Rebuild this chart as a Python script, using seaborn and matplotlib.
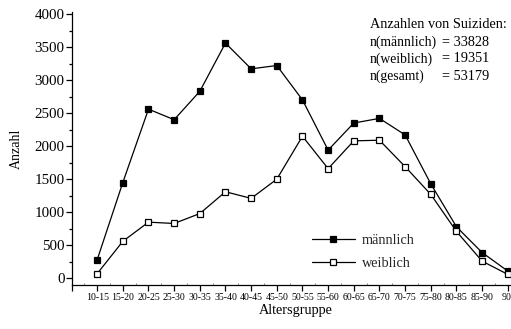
import matplotlib
matplotlib.use("Agg")
import matplotlib.pyplot as plt
import seaborn as sns
import pandas as pd
from matplotlib.ticker import MultipleLocator, FixedLocator

age_groups = ["10-15", "15-20", "20-25", "25-30", "30-35", "35-40", "40-45", "45-50",
              "50-55", "55-60", "60-65", "65-70", "70-75", "75-80", "80-85", "85-90", "90-"]
maennlich = [280, 1450, 2560, 2400, 2830, 3560, 3170, 3220, 2700, 1940, 2350, 2420,
             2170, 1430, 780, 390, 110]
weiblich = [70, 560, 850, 830, 980, 1310, 1210, 1500, 2150, 1660, 2080, 2090,
            1690, 1270, 710, 260, 60]
info_labels = ["n(männlich)", "n(weiblich)", "n(gesamt)"]
info_values = ["= 33828", "= 19351", "= 53179"]

sns.set_theme(style="ticks")
plt.rcParams["font.family"] = ["Liberation Serif", "DejaVu Serif"]

pos = list(range(len(age_groups)))
df_m = pd.DataFrame({"x": pos, "y": maennlich})
df_w = pd.DataFrame({"x": pos, "y": weiblich})

W, H = 511, 329
fig = plt.figure(figsize=(W / 100, H / 100), dpi=100)
fig.patch.set_facecolor("white")
ax = fig.add_axes([71.5 / W, 1 - 285 / H, (520.6 - 71.5) / W, (285 - 12) / H])
ax.set_facecolor("white")

sns.lineplot(data=df_m, x="x", y="y", ax=ax, color="black", lw=0.9, marker="s",
             markersize=5, markerfacecolor="black", markeredgecolor="black",
             markeredgewidth=0.9, label="männlich")
sns.lineplot(data=df_w, x="x", y="y", ax=ax, color="black", lw=0.9, marker="s",
             markersize=5, markerfacecolor="white", markeredgecolor="black",
             markeredgewidth=0.9, label="weiblich")

ax.set_xlim(-1, 16.5)
ax.set_ylim(-101, 4030)

ax.xaxis.set_major_locator(FixedLocator(list(range(-1, len(age_groups)))))
ax.set_xticklabels([""] + age_groups)
ax.xaxis.set_minor_locator(FixedLocator([p + 0.5 for p in range(-1, len(age_groups))]))
ax.yaxis.set_major_locator(MultipleLocator(500))
ax.yaxis.set_minor_locator(MultipleLocator(250))

for s in ["top", "right"]:
    ax.spines[s].set_visible(False)
for s in ["left", "bottom"]:
    ax.spines[s].set_linewidth(0.9)
    ax.spines[s].set_color("black")

ax.tick_params(axis="x", which="major", direction="out", length=4, width=0.9,
               labelsize=7.1, pad=1.5, colors="black")
ax.tick_params(axis="x", which="minor", direction="in", length=1.5, width=0.6,
               colors="#777777")
ax.tick_params(axis="y", which="major", direction="out", length=4, width=0.9,
               labelsize=10.8, pad=1, colors="black")
ax.tick_params(axis="y", which="minor", direction="out", length=2.5, width=0.9,
               colors="black")

ax.set_xlabel("Altersgruppe", fontsize=10.3, labelpad=2, color="black")
ax.set_ylabel("Anzahl", fontsize=10, labelpad=8, color="black")

leg = ax.legend(loc="center left", bbox_to_anchor=(312 / W, 1 - 252 / H),
                bbox_transform=fig.transFigure, frameon=False, fontsize=10.3,
                handlelength=3.0, handletextpad=0.5, labelspacing=0.75,
                borderaxespad=0, borderpad=0)

fs = 10.3
fig.text(370 / W, 1 - 25 / H, "Anzahlen von Suiziden:", fontsize=fs,
         va="center", ha="left", color="black")
for i, (lab, val) in enumerate(zip(info_labels, info_values)):
    yy = 1 - (42 + 17 * i) / H
    fig.text(370 / W, yy, lab, fontsize=9.8, va="center", ha="left", color="black")
    fig.text(441.5 / W, yy, val, fontsize=fs, va="center", ha="left", color="black")

fig.savefig("out.png", dpi=100, facecolor="white")
